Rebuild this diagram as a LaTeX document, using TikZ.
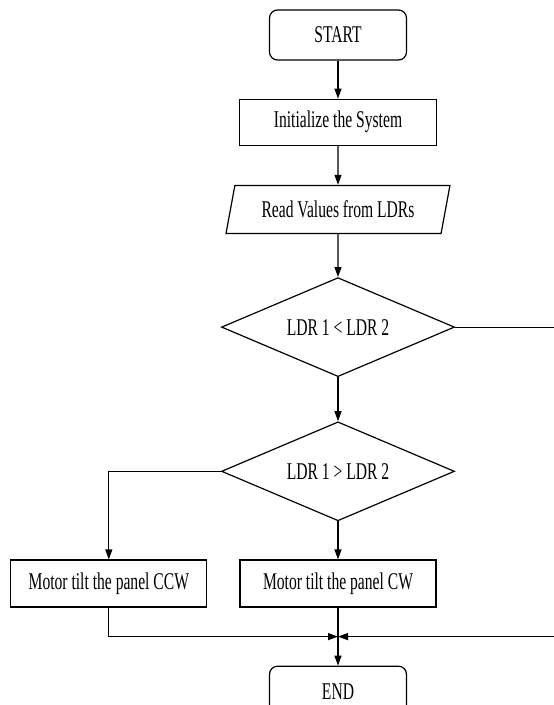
\documentclass[tikz,border=0pt]{standalone}
\usepackage{fontspec}
\setmainfont{Liberation Serif}[FakeStretch=0.65]
\usetikzlibrary{shapes.geometric, arrows.meta}
\usetikzlibrary{positioning}

\begin{document}
\begin{tikzpicture}[
                x=1pt, y=-1pt,
                line width=1.2pt,
                font=\fontsize{24}{28}\selectfont,
                startstop/.style={
                        draw,
                        rounded corners=8pt,
                        minimum width=137pt,
                        minimum height=50pt
                    },
                process/.style={
                        draw,
                        rectangle,
                        minimum width=197pt,
                        minimum height=46pt
                    },
                io/.style={
                        draw,
                        trapezium,
                        trapezium left angle=74,
                        trapezium right angle=106,
                        trapezium stretches=true,
                        minimum width=224pt,
                        minimum height=48pt
                    },
                decision/.style={
                        draw,
                        diamond,
                        aspect=2.35,
                        inner sep=0pt,
                        minimum width=233pt,
                        minimum height=99pt
                    },
                motor/.style={
                        process,
                        minimum width=196pt,
                        minimum height=47pt
                    },
                arrow/.style={-{Triangle[length=10pt,width=7pt]}}
            ]
            \useasboundingbox (0,0) rectangle (554,705);

            % Nodes of the main column
            \node[startstop] (start) at (338,35) {START};
            \node[process, below=38pt of start] (init) {Initialize the System};
            \node[io, below=39pt of init] (read) {Read Values from LDRs};
            \node[decision, below=43pt of read] (dec1) {LDR 1 < LDR 2};
            \node[decision, below=44pt of dec1] (dec2) {LDR 1 > LDR 2};
            \node[motor, below=38pt of dec2] (cw) {Motor tilt the panel CW};
            \node[motor, left=32pt of cw] (ccw) {Motor tilt the panel CCW};
            \node[startstop, below=58pt of cw] (stop) {END};

            % Meeting point and the return on the right
            \coordinate[below=29pt of cw.south] (join);
            \coordinate[right=105pt of dec1.east] (rtop);

            % Arrows
            \draw[arrow] (start) -- (init);
            \draw[arrow] (init) -- (read);
            \draw[arrow] (read) -- (dec1);
            \draw[arrow] (dec1) -- (dec2);
            \draw[arrow] (dec2) -- (cw);
            \draw[arrow] (dec2.west) -| (ccw.north);
            \draw[arrow] (ccw.south) |- (join);
            \draw[arrow] (dec1.east) -- (rtop) |- (join);
            \draw (cw.south) -- (join);
            \draw[arrow] (join) -- (stop);

        \end{tikzpicture}
\end{document}
